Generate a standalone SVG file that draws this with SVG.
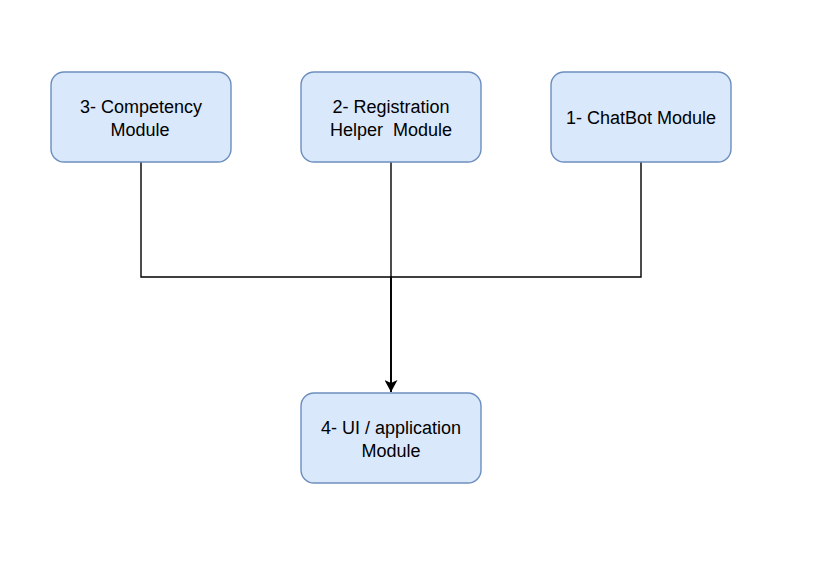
<svg xmlns="http://www.w3.org/2000/svg" width="822" height="581" viewBox="0 0 822 581">
<style>
.node rect{fill:#dae8fc;stroke:#6c8ebf;stroke-width:1.4}
.node text{font-family:"Liberation Sans",Arial,sans-serif;font-size:18px;fill:#000;text-anchor:middle}
.edges path{fill:none;stroke:#000;stroke-width:1.4}
</style>
<defs>
<marker id="arr" markerWidth="13" markerHeight="13" refX="12" refY="6.5" orient="auto" markerUnits="userSpaceOnUse">
<path d="M0,0 L12,6.5 L0,13 L3,6.5 Z" fill="#000"/>
</marker>
</defs>
<rect width="822" height="581" fill="#fff"/>
<g class="edges">
<path d="M141,162 V277 H391 V392"/>
<path d="M641,162 V277 H391 V392"/>
<path d="M391,162 V392" marker-end="url(#arr)"/>
</g>
<g id="n3" class="node"><rect x="51" y="72" width="180" height="90" rx="13"/><text x="141" y="113">3- Competency</text><text x="140" y="136">Module</text></g>
<g id="n2" class="node"><rect x="301" y="72" width="180" height="90" rx="13"/><text x="391" y="113">2- Registration</text><text x="391" y="136" xml:space="preserve">Helper  Module</text></g>
<g id="n1" class="node"><rect x="551" y="72" width="180" height="90" rx="13"/><text x="641" y="124">1- ChatBot Module</text></g>
<g id="n4" class="node"><rect x="301" y="393" width="180" height="90" rx="13"/><text x="391" y="434">4- UI / application</text><text x="391" y="457">Module</text></g>
</svg>
